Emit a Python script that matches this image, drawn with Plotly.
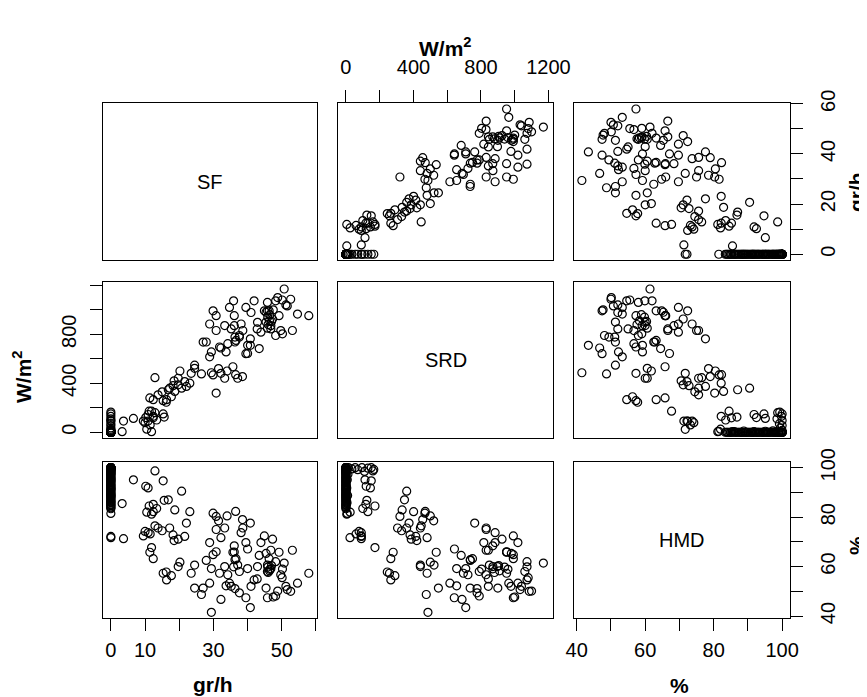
import plotly.graph_objects as go

# window is 867x697; the page body adds an 8px margin, so the figure is 859x689
OFF = 8
W, H = 867 - OFF, 697 - OFF

# ---- data ----
# night-time readings, dawn readings with no flies, then daytime readings
SF = [0, 0, 0, 0, 0, 0, 0, 0, 0, 0, 0, 0, 0, 0, 0, 0, 0, 0, 0, 0,
      0, 0, 0, 0, 0, 0, 0, 0, 0, 0, 0, 0, 0, 0, 0, 0, 0, 0, 0,
      0, 0, 0, 0, 0, 0, 0, 0, 0, 0, 0, 0, 0, 0, 0, 0, 0, 0, 0, 0,
      0, 0, 0, 0, 0, 0, 0, 0, 0, 0,
      0, 0, 0, 0, 0, 0, 0, 0, 0, 0, 0, 0,
      3.3, 3.7, 6.6, 9.5, 10.0, 10.9, 10.9, 10.5, 11.9, 12.9,
      12.4, 11.2, 12.4, 13.4, 11.4, 12.4, 11.9, 12.9, 13.8, 15.6,
      15.3, 15.3, 16.3, 17.7, 16.2, 18.7, 17.2, 16.8, 20.7, 19.7,
      21.6, 23.1, 19.7, 20.2, 22.1, 18.2, 23.5, 24.5, 24.5, 26.5,
      27.0, 27.9, 28.9, 28.9, 29.4, 29.4, 29.9, 30.8, 30.8, 32.2,
      32.2, 33.3, 33.3, 33.7, 34.2, 34.7, 35.2, 35.7, 36.1, 36.6,
      37.1, 37.6, 37.6, 38.1, 38.6, 39.5, 39.5, 40.0, 40.0, 40.8,
      40.8, 41.0, 41.9, 42.9, 43.4, 43.9, 44.9, 45.4, 45.4, 45.8,
      45.8, 45.8, 46.3, 46.8, 47.3, 48.2, 48.2, 49.2, 49.7, 50.2,
      50.7, 51.2, 51.6, 52.6, 53.1, 54.6, 57.9, 46.0, 46.4, 46.8,
      45.9, 46.5, 47.0, 47.5, 48.8, 50.1, 36.3, 42.8, 36.3, 31.5,
      34.0, 36.5, 38.5, 29.9, 30.8, 35.9, 31.8, 36.1, 10.2, 11.5,
      15.0, 18.5]

SRD = [0, 0, 0, 0, 0, 0, 0, 0, 0, 0, 0, 0, 0, 0, 0, 0, 0, 0, 0, 0,
       0, 0, 0, 0, 0, 0, 0, 0, 0, 0, 0, 0, 0, 0, 12, 8, 5, 10, 6,
       0, 0, 0, 0, 0, 0, 0, 0, 0, 0, 0, 0, 0, 0, 0, 0, 0, 0, 0, 0,
       0, 0, 0, 0, 0, 0, 0, 0, 0, 0,
       15, 35, 55, 70, 95, 110, 130, 150, 165, 24, 91, 8,
       5, 91, 113, 91, 78, 91, 145, 25, 5, 160,
       118, 172, 130, 100, 280, 266, 172, 446, 306, 124,
       150, 258, 266, 290, 245, 333, 360, 347, 360, 387,
       414, 401, 441, 500, 374, 380, 481, 548, 522, 476,
       736, 737, 616, 884, 486, 656, 468, 320, 831, 688,
       481, 441, 871, 656, 723, 1019, 844, 535, 952, 750,
       441, 777, 790, 884, 831, 642, 1019, 643, 710, 763,
       710, 978, 1073, 898, 683, 817, 992, 980, 900, 1060,
       992, 850, 992, 844, 925, 790, 1073, 952, 830, 804,
       1170, 1040, 1032, 1086, 831, 965, 952, 880, 910, 870,
       940, 960, 905, 1000, 1100, 1080, 777, 844, 737, 520,
       500, 470, 455, 992, 952, 1073, 696, 870, 120, 60,
       330, 420]

HMD = [83.4, 84.1, 84.9, 85.3, 86.2, 86.8, 87.5, 88.1, 88.4, 89.3,
       89.9, 90.6, 91.2, 91.5, 92.3, 92.9, 93.4, 94.2, 94.6, 95.3,
       95.9, 96.4, 97.1, 97.7, 98.2, 98.8, 99.1, 99.6, 100, 100,
       100, 100, 100, 100, 97.3, 95.1, 91.8, 88.8, 86.0,
       83.8, 84.5, 85.0, 85.8, 86.5, 87.2, 87.9, 88.6, 89.1, 89.6,
       90.2, 90.9, 91.4, 92.0, 92.6, 93.1, 93.8, 94.4, 95.0, 95.6,
       96.1, 96.8, 97.5, 98.0, 98.5, 99.0, 99.4, 99.8, 100, 100,
       100, 99.5, 100, 99.2, 100, 98.5, 99.8, 100, 99.3, 71.7, 72.2, 81.5,
       85.5, 71.3, 95.1, 72.4, 74.2, 73.7, 91.8, 82.0, 81.2, 98.7,
       85.2, 84.5, 82.2, 83.5, 65.8, 63.2, 67.7, 76.5, 75.6, 86.8,
       94.7, 57.3, 54.6, 56.3, 57.8, 82.9, 75.6, 87.0, 90.5, 71.1,
       72.2, 82.2, 60.0, 61.8, 77.6, 72.8, 57.3, 51.3, 60.6, 48.7,
       51.3, 62.5, 53.3, 69.7, 41.5, 59.2, 81.6, 80.3, 75.0, 46.7,
       71.7, 75.6, 60.0, 52.2, 56.7, 53.3, 52.0, 65.8, 65.9, 63.2,
       60.6, 49.4, 58.0, 73.7, 75.6, 47.4, 69.7, 67.1, 59.2, 77.6,
       43.4, 52.0, 54.6, 60.0, 64.5, 69.7, 72.4, 65.3, 51.3, 58.0,
       47.4, 60.6, 63.2, 66.6, 71.1, 48.1, 62.0, 65.8, 56.7, 59.0,
       61.4, 52.0, 50.7, 50.0, 66.6, 53.3, 57.3, 57.6, 58.3, 59.1,
       59.8, 58.9, 60.4, 47.7, 50.1, 55.5, 51.1, 55.0, 62.8, 78.5,
       80.5, 82.3, 79.0, 64.8, 66.0, 59.9, 57.3, 68.4, 92.5, 73.2,
       74.5, 70.5]

VAR_NAMES = ["SF", "SRD", "HMD"]
UNITS = ["gr/h", "W/m<sup>2</sup>", "%"]

SF_TICKS = [0, 10, 20, 30, 40, 50, 60]
SRD_TICKS = [0, 200, 400, 600, 800, 1000, 1200]
HMD_TICKS = [40, 50, 60, 70, 80, 90, 100]

# ---- layout geometry (screen pixels) ----
FONT = "Liberation Sans, Arial, Helvetica, sans-serif"
col_px = [(103, 317), (338, 553), (574, 790)]
row_px = [(103, 260), (282, 438), (462, 618)]
ranges = [[-2.3, 60.3], [-47, 1227], [39.2, 102.3]]
data = [SF, SRD, HMD]


def px2x(px):
    return (px - OFF) / W


def py2y(py):
    return 1 - (py - OFF) / H


def xdom(c):
    l, r = col_px[c]
    return [px2x(l), px2x(r)]


def ydom(r):
    t, b = row_px[r]
    return [py2y(b), py2y(t)]


def labels(vals, shown):
    return [str(v) if v in shown else "" for v in vals]


tickfont = dict(family=FONT, size=20, color="black")
TL = 12


def tick_cfg(vals, text, side, angle, standoff):
    return dict(ticks="outside", ticklen=TL, tickwidth=1, tickcolor="black",
                tickmode="array", tickvals=vals, ticktext=text,
                showticklabels=True, tickfont=tickfont, side=side,
                tickangle=angle, ticklabelstandoff=standoff)


axis_ticks = {
    (2, 0): {"x": tick_cfg(SF_TICKS, labels(SF_TICKS, [0, 10, 30, 50]), "bottom", 0, 2)},
    (0, 1): {"x": tick_cfg(SRD_TICKS, labels(SRD_TICKS, [0, 400, 800, 1200]), "top", 0, 8)},
    (2, 2): {"x": tick_cfg(HMD_TICKS, labels(HMD_TICKS, [40, 60, 80, 100]), "bottom", 0, 2),
             "y": tick_cfg(HMD_TICKS, labels(HMD_TICKS, [40, 60, 80, 100]), "right", -90, 8)},
    (0, 2): {"y": tick_cfg(SF_TICKS, labels(SF_TICKS, [0, 20, 40, 60]), "right", -90, 8)},
    (1, 0): {"y": tick_cfg(SRD_TICKS, labels(SRD_TICKS, [0, 400, 800]), "left", -90, 6)},
}

fig = go.Figure()
layout = {}
annotations = []

for r in range(3):
    for c in range(3):
        k = r * 3 + c + 1
        xs = "x" if k == 1 else f"x{k}"
        ys = "y" if k == 1 else f"y{k}"
        xa = "xaxis" if k == 1 else f"xaxis{k}"
        ya = "yaxis" if k == 1 else f"yaxis{k}"
        base = dict(showgrid=False, zeroline=False, showline=True, mirror=True,
                    linecolor="black", linewidth=1, ticks="", showticklabels=False,
                    fixedrange=True, automargin=False)
        xcfg = dict(base, domain=xdom(c), range=ranges[c], anchor=ys)
        ycfg = dict(base, domain=ydom(r), range=ranges[r], anchor=xs)
        t = axis_ticks.get((r, c), {})
        if "x" in t:
            xcfg.update(t["x"])
        if "y" in t:
            ycfg.update(t["y"])
        layout[xa] = xcfg
        layout[ya] = ycfg
        if r == c:
            fig.add_trace(go.Scatter(x=[None], y=[None], xaxis=xs, yaxis=ys,
                                     mode="markers", showlegend=False))
            cx = px2x((col_px[c][0] + col_px[c][1]) / 2)
            cy = py2y((row_px[r][0] + row_px[r][1]) / 2)
            annotations.append(dict(x=cx, y=cy, xref="paper", yref="paper",
                                    text=VAR_NAMES[r], showarrow=False,
                                    xanchor="center", yanchor="middle",
                                    font=dict(family=FONT, size=20, color="black")))
        else:
            fig.add_trace(go.Scatter(
                x=data[c], y=data[r], xaxis=xs, yaxis=ys, mode="markers",
                marker=dict(symbol="circle-open", size=8, color="black",
                            line=dict(width=1.2, color="black")),
                showlegend=False, hoverinfo="skip"))

title_font = dict(family=FONT, size=21, color="black")


def title(text, px, py, angle=0):
    annotations.append(dict(x=px2x(px), y=py2y(py), xref="paper", yref="paper",
                            text=f"<b>{text}</b>", showarrow=False,
                            textangle=angle, font=title_font,
                            xanchor="center", yanchor="middle"))


title(UNITS[1], 445, 47)           # top, column 2
title(UNITS[0], 856, 192, -90)     # right, row 1
title(UNITS[1], 22, 376, -90)      # left, row 2
title(UNITS[0], 213, 684)          # bottom, column 1
title(UNITS[2], 679, 685)          # bottom, column 3
title(UNITS[2], 856, 546, -90)     # right, row 3

fig.update_layout(width=W, height=H,
                  margin=dict(l=0, r=0, t=0, b=0, autoexpand=False),
                  plot_bgcolor="white", paper_bgcolor="white",
                  showlegend=False, annotations=annotations,
                  font=dict(family=FONT, color="black"), **layout)

fig.write_html("out.html")
